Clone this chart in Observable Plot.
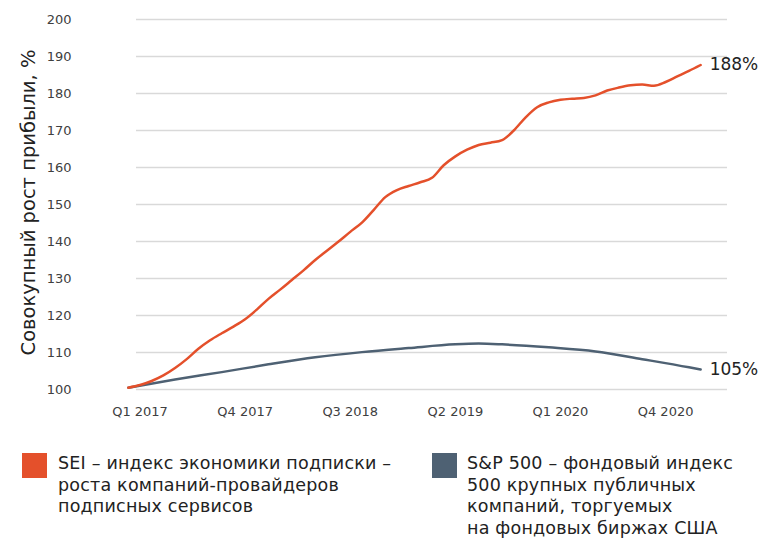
<!DOCTYPE html>
<html>
<head>
<meta charset="utf-8">
<script src="https://cdn.jsdelivr.net/npm/d3@7"></script>
<script src="https://cdn.jsdelivr.net/npm/@observablehq/plot@0.6"></script>
<style>
  html, body { margin: 0; padding: 0; background: #fff; }
  #wrap { position: relative; width: 766px; height: 538px; overflow: hidden; font-family: "DejaVu Sans", Verdana, sans-serif; }
  .leg { position: absolute; top: 453px; }
  .sw { position: absolute; top: 0; width: 25px; height: 25px; }
  .lt { position: absolute; top: 0px; font-size: 17.5px; letter-spacing: 0.2px; line-height: 21.5px; color: #222; white-space: nowrap; }
</style>
</head>
<body>
<div id="wrap">
  <div id="chart"></div>
  <div class="leg" style="left:22px">
    <div class="sw" style="left:0; background:#E4502B"></div>
    <div class="lt" id="lt0" style="left:36px"></div>
  </div>
  <div class="leg" style="left:432px">
    <div class="sw" style="left:0; background:#4E6173"></div>
    <div class="lt" id="lt1" style="left:35px"></div>
  </div>
</div>
<script>
// Months since Jan 2017 (0 = Jan 2017)
const months = d3.range(0, 50);
// SEI – subscription economy index, cumulative growth, %
const seiValues = [100.5, 101.2, 102.3, 103.8, 105.8, 108.2, 111.0, 113.3, 115.2, 117.0,
  119.0, 121.6, 124.5, 127.0, 129.6, 132.2, 135.0, 137.5, 140.0, 142.6,
  145.1, 148.5, 152.0, 153.9, 155.0, 156.0, 157.2, 160.6, 163.0, 164.8,
  166.1, 166.7, 167.4, 170.0, 173.5, 176.3, 177.6, 178.3, 178.6, 178.8,
  179.5, 180.8, 181.6, 182.2, 182.4, 182.1, 183.1, 184.6, 186.1, 187.7];
// S&P 500 sampled months and values
const spMonths = [0, 4, 8, 12, 16, 20, 24, 28, 30, 32, 36, 40, 44, 48, 49];
const spValues = [100.5, 102.7, 104.7, 106.8, 108.7, 110.1, 111.2, 112.2, 112.4, 112.2, 111.4, 110.3, 108.2, 106.0, 105.4];
// X tick labels (mid-quarter months)
const tickMonths = [1, 10, 19, 28, 37, 46];
const tickLabels = ["Q1 2017", "Q4 2017", "Q3 2018", "Q2 2019", "Q1 2020", "Q4 2020"];
const yTicks = [100, 110, 120, 130, 140, 150, 160, 170, 180, 190, 200];
const endLabels = ["188%", "105%"];
const yTitle = "Совокупный рост прибыли, %";
const legendLabels = [
  ["SEI – индекс экономики подписки –", "роста компаний-провайдеров", "подписных сервисов"],
  ["S&P 500 – фондовый индекс", "500 крупных публичных", "компаний, торгуемых", "на фондовых биржах США"]
];
const colors = ["#E4502B", "#4E6173"];

const sei = months.map((m, i) => ({m, v: seiValues[i]}));
const sp = spMonths.map((m, i) => ({m, v: spValues[i]}));
const ends = [
  {m: months[months.length - 1], v: seiValues[seiValues.length - 1], t: endLabels[0]},
  {m: spMonths[spMonths.length - 1], v: spValues[spValues.length - 1], t: endLabels[1]}
];

const chart = Plot.plot({
  width: 766,
  height: 440,
  marginTop: 19,
  marginBottom: 51,
  marginLeft: 136,
  marginRight: 39,
  style: {fontFamily: "DejaVu Sans, Verdana, sans-serif", fontSize: "13px", color: "#404040", background: "transparent", overflow: "visible"},
  x: {domain: [0.7, 51.3]},
  y: {domain: [100, 200]},
  marks: [
    Plot.ruleY(yTicks, {stroke: "#d9d9d9", strokeWidth: 1.5}),
    Plot.axisX({ticks: tickMonths, tickFormat: (d) => tickLabels[tickMonths.indexOf(d)], tickSize: 0, tickPadding: 17, label: null, fontSize: 13}),
    Plot.axisY({ticks: yTicks, tickSize: 0, tickPadding: 65, label: null, fontSize: 13}),
    Plot.line(sp, {x: "m", y: "v", stroke: colors[1], strokeWidth: 2.5, curve: "monotone-x"}),
    Plot.line(sei, {x: "m", y: "v", stroke: colors[0], strokeWidth: 2.5, curve: "monotone-x"}),
    Plot.text(ends, {x: "m", y: "v", text: "t", dx: 9, textAnchor: "start", fontSize: 17, fill: "#222"}),
    Plot.text([yTitle], {frameAnchor: "left", dx: -108, dy: -2, rotate: -90, textAnchor: "middle", fontSize: 19.5, fill: "#222"})
  ]
});
document.getElementById("chart").appendChild(chart);
document.getElementById("lt0").innerHTML = legendLabels[0].map(s => s.replace(/&/g, "&amp;")).join("<br>");
document.getElementById("lt1").innerHTML = legendLabels[1].map(s => s.replace(/&/g, "&amp;")).join("<br>");
</script>
</body>
</html>
